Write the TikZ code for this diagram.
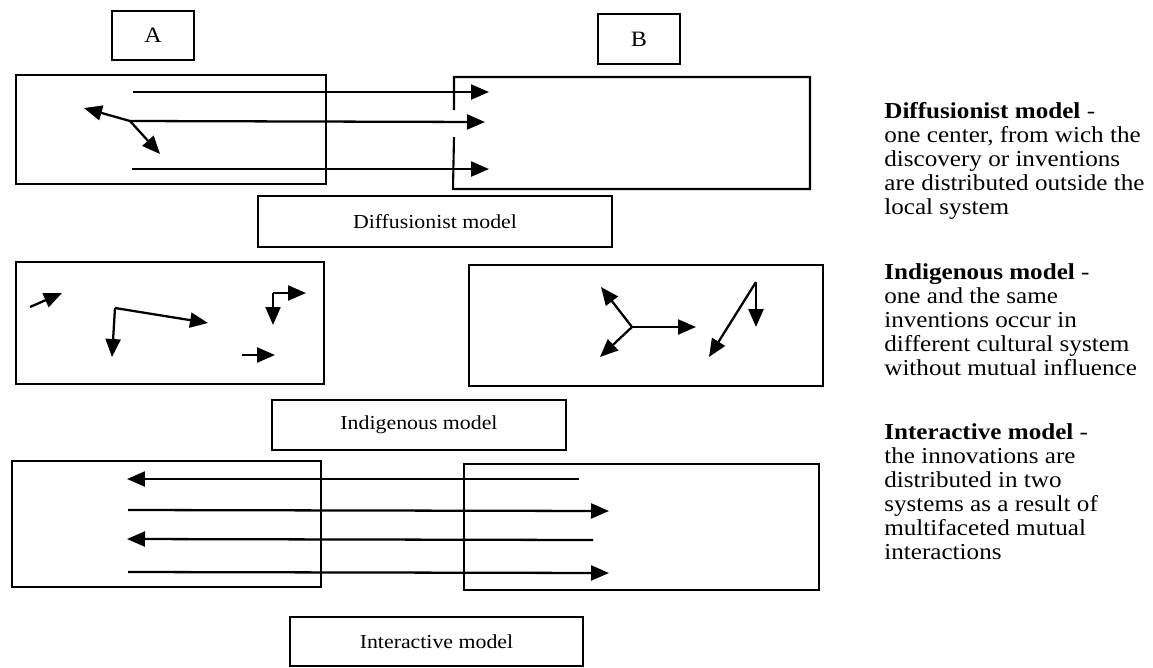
\documentclass[tikz,border=0pt]{standalone}
\usepackage{fontspec}
\setmainfont{Liberation Serif}[FakeStretch=1.1]
\usetikzlibrary{arrows.meta}
\tikzset{every picture/.append style={x=0.02cm, y=-0.02cm}}
\tikzset{
    box/.style={draw, rectangle, inner sep=0pt, line width=1.2pt,
    	font=\fontsize{11.3}{13}\selectfont},
    letter/.style={box, font=\fontsize{12.5}{14}\selectfont},
    flow/.style={-{Triangle[length=0.36cm, width=0.3cm]}, line width=1.3pt},
    note/.style={anchor=north west, align=left, inner sep=0pt,
    	font=\fontsize{13}{13.7}\selectfont}
}

\begin{document}
\begin{tikzpicture}
  \useasboundingbox (0, 0) rectangle (1153, 667);

  \node (labA) [letter, minimum width=1.64cm, minimum height=0.98cm] at (153, 35.5) {A};
  \node (labB) [letter, minimum width=1.64cm, minimum height=1cm] at (639, 39) {B};

  \node (A1) [box, minimum width=6.2cm, minimum height=2.18cm] at (171, 129.5) {};
  \node (B1) [box, draw=none, minimum width=7.1cm, minimum height=2.2cm] at (631.5, 133) {};
  \node (capD) [box, minimum width=7.08cm, minimum height=1.02cm] at (435, 221.5) {Diffusionist model};

  \node (A2) [box, minimum width=6.16cm, minimum height=2.44cm] at (170, 323) {};
  \node (B2) [box, minimum width=7.08cm, minimum height=2.42cm] at (646, 325.5) {};
  \node (capI) [box, minimum width=5.88cm, minimum height=1cm] at (419, 425) {Indigenous model};

  \node (A3) [box, minimum width=6.18cm, minimum height=2.52cm] at (166.5, 524) {};
  \node (B3) [box, minimum width=7.1cm, minimum height=2.52cm] at (641.5, 527) {};
  \node (capN) [box, minimum width=5.86cm, minimum height=0.98cm] at (436.5, 641.5) {Interactive model};

  \node (noteD) [note] at (884, 102) {\textbf{Diffusionist model} -\\one center, from wich the\\discovery or inventions\\are distributed outside the\\local system};
  \node (noteI) [note] at (884, 263) {\textbf{Indigenous model} -\\one and the same\\inventions occur in\\different cultural system\\without mutual influence};
  \node (noteN) [note] at (884, 423) {\textbf{Interactive model} -\\the innovations are\\distributed in two\\systems as a result of\\multifaceted mutual\\interactions};

  \coordinate (gapT) at (454, 110);
  \coordinate (gapB) at (454, 137);
  \draw [line width=1.2pt] (gapT) |- (B1.north east) -- (B1.south east) -- (B1.south west) -- (gapB);

  \coordinate (d1s) at (133, 92);
  \coordinate (d1e) at (489, 92);
  \coordinate (hub) at (130, 121);
  \coordinate (d2e) at (485, 122);
  \coordinate (hubL) at (84, 108);
  \coordinate (hubR) at (160, 154);
  \coordinate (d3s) at (132, 169);
  \coordinate (d3e) at (489, 169);

  \draw [flow] (d1s) -- (d1e);
  \draw [flow] (hub) -- (d2e);
  \draw [flow] (hub) -- (hubL);
  \draw [flow] (hub) -- (hubR);
  \draw [flow] (d3s) -- (d3e);

  \coordinate (i1s) at (30, 307);
  \coordinate (i1e) at (62, 293);
  \coordinate (i2c) at (115, 308);
  \coordinate (i2r) at (208, 323);
  \coordinate (i2d) at (112, 357);
  \coordinate (i3c) at (273, 293);
  \coordinate (i3r) at (306, 293);
  \coordinate (i3d) at (273, 325);
  \coordinate (i4s) at (242, 355);
  \coordinate (i4e) at (275, 355);

  \draw [flow] (i1s) -- (i1e);
  \draw [flow] (i2c) -- (i2r);
  \draw [flow] (i2c) -- (i2d);
  \draw [flow] (i3c) -- (i3r);
  \draw [flow] (i3c) -- (i3d);
  \draw [flow] (i4s) -- (i4e);

  \coordinate (j1c) at (632, 327);
  \coordinate (j1u) at (601, 287);
  \coordinate (j1d) at (600, 357);
  \coordinate (j1r) at (696, 327);
  \coordinate (j2c) at (756, 282);
  \coordinate (j2l) at (709, 357);
  \coordinate (j2d) at (756, 327);

  \draw [flow] (j1c) -- (j1u);
  \draw [flow] (j1c) -- (j1d);
  \draw [flow] (j1c) -- (j1r);
  \draw [flow] (j2c) -- (j2l);
  \draw [flow] (j2c) -- (j2d);

  \coordinate (n1s) at (579, 479);
  \coordinate (n1e) at (127, 479);
  \coordinate (n2s) at (128, 510);
  \coordinate (n2e) at (609, 511);
  \coordinate (n3s) at (593, 540);
  \coordinate (n3e) at (127, 539);
  \coordinate (n4s) at (128, 572);
  \coordinate (n4e) at (609, 573);

  \draw [flow] (n1s) -- (n1e);
  \draw [flow] (n2s) -- (n2e);
  \draw [flow] (n3s) -- (n3e);
  \draw [flow] (n4s) -- (n4e);
\end{tikzpicture}
\end{document}
